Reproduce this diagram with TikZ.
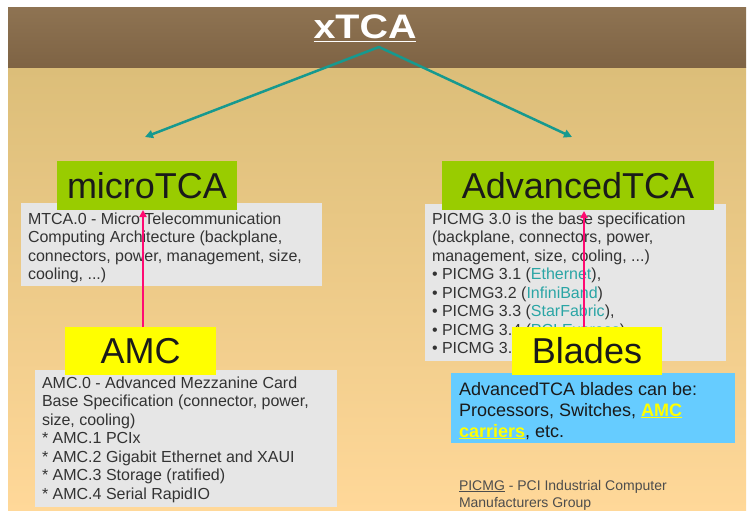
\documentclass[tikz,border=0pt]{standalone}
\usepackage{fontspec}
\setmainfont{Liberation Sans}
\usetikzlibrary{arrows.meta}
\definecolor{hdrtop}{HTML}{8E7352}
\definecolor{hdrbot}{HTML}{7E6344}
\definecolor{bgtop}{HTML}{DCBE79}
\definecolor{bgbot}{HTML}{FFD899}
\definecolor{grn}{HTML}{99CC00}
\definecolor{ylw}{HTML}{FFFF00}
\definecolor{gbox}{HTML}{E6E6E6}
\definecolor{bbox}{HTML}{66CCFF}
\definecolor{txt}{HTML}{333333}
\definecolor{lnk}{HTML}{2AA5A5}
\definecolor{tealarr}{HTML}{16998F}
\definecolor{pinkarr}{HTML}{FF0A72}
\definecolor{ttltxt}{HTML}{1A1A1A}
\definecolor{foot}{HTML}{4D4D4D}
\tikzset{
  boxnode/.style={draw=none, inner sep=0pt, outer sep=0pt, anchor=north west},
  ttlnode/.style={inner sep=0pt, outer sep=0pt, text=ttltxt, font=\fontsize{36}{40}\selectfont},
  bodynode/.style={inner sep=0pt, outer sep=0pt, anchor=north west, align=left, text=txt, font=\fontsize{16}{18.5}\selectfont},
  tealarrow/.style={draw=tealarr, line width=2.5pt, -{Triangle[length=8pt,width=8pt]}},
  pinkarrow/.style={draw=pinkarr, line width=2.5pt, -{Triangle[length=7pt,width=7pt]}},
}
\newcommand{\lk}[1]{\textcolor{lnk}{#1}}
\newcommand{\st}{\rule{0pt}{13pt}}
\begin{document}
\begin{tikzpicture}[x=1pt,y=-1pt]
\useasboundingbox (0,0) rectangle (748,511);
\fill[white] (0,0) rectangle (748,511);
\shade[top color=bgtop,bottom color=bgbot] (8,68) rectangle (746,511);
\shade[top color=hdrtop,bottom color=hdrbot] (8,8) rectangle (746,68);

% title
\node[inner sep=0pt, outer sep=0pt, anchor=base, text=white, font=\fontsize{34}{38}\selectfont\bfseries] (xtca) at (365,39) {\scalebox{1.16}[1]{\underline{xTCA}}};
\coordinate (apex) at (379,47);
\coordinate (ltip) at (145,137);
\coordinate (rtip) at (572,137);
\draw[tealarrow, line cap=round] (apex) -- (ltip);
\draw[tealarrow, line cap=round] (apex) -- (rtip);

% microTCA column
\node[boxnode, fill=gbox, minimum width=301pt, minimum height=83pt] (mtcabox) at (21,203) {};
\node[boxnode, fill=grn, minimum width=180pt, minimum height=49pt] (microbox) at (57,161) {};
\node[ttlnode] (micro) at (microbox.center) {microTCA};
\node[bodynode] (mtcatext) at (28,211) {\st MTCA.0 - Micro Telecommunication\\Computing Architecture (backplane,\\connectors, power, management, size,\\cooling, ...)};

\node[boxnode, fill=gbox, minimum width=302pt, minimum height=137pt] (amcbox) at (35,370) {};
\node[boxnode, fill=ylw, minimum width=151pt, minimum height=48pt] (amcybox) at (65,327) {};
\node[ttlnode] (amc) at (amcybox.center) {AMC};
\node[bodynode] (amctext) at (42,375) {\st AMC.0 - Advanced Mezzanine Card\\Base Specification (connector, power,\\size, cooling)\\* AMC.1 PCIx\\* AMC.2 Gigabit Ethernet and XAUI\\* AMC.3 Storage (ratified)\\* AMC.4 Serial RapidIO};
\coordinate (amctop) at (143,327);
\coordinate (microtip) at (143,210);
\draw[pinkarrow] (amctop) -- (microtip);

% AdvancedTCA column
\node[boxnode, fill=gbox, minimum width=301pt, minimum height=157pt] (picmgbox) at (425,204) {};
\node[boxnode, fill=grn, minimum width=272pt, minimum height=49pt] (atcabox) at (442,161) {};
\node[ttlnode] (atca) at (atcabox.center) {AdvancedTCA};
\node[bodynode] (picmgtext) at (432,211) {\st PICMG 3.0 is the base specification\\(backplane, connectors, power,\\management, size, cooling, ...)\\\textbullet\ PICMG 3.1 (\lk{Ethernet}),\\\textbullet\ PICMG3.2 (\lk{InfiniBand})\\\textbullet\ PICMG 3.3 (\lk{StarFabric}),\\\textbullet\ PICMG 3.4 (\lk{PCI Express}),\\\textbullet\ PICMG 3.5 (\lk{RapidIO})};

\node[boxnode, fill=bbox, minimum width=284pt, minimum height=70pt] (bluebox) at (451,373) {};
\node[boxnode, fill=ylw, minimum width=150pt, minimum height=48pt] (bladesbox) at (512,327) {};
\node[ttlnode] (blades) at (bladesbox.center) {Blades};
\node[bodynode, text=ttltxt, font=\fontsize{18}{21}\selectfont] (bluetext) at (459,381) {\rule{0pt}{14pt}AdvancedTCA blades can be:\\Processors, Switches, \textcolor{ylw}{\bfseries\underline{AMC}}\\\textcolor{ylw}{\bfseries\underline{carriers}}, etc.};
\coordinate (bladestop) at (584,327);
\coordinate (atcatip) at (584,211);
\draw[pinkarrow] (bladestop) -- (atcatip);

\node[bodynode, text=foot, font=\fontsize{14}{17}\selectfont] (foottext) at (459,479) {\rule{0pt}{11pt}\underline{PICMG} - PCI Industrial Computer\\Manufacturers Group};
\end{tikzpicture}
\end{document}
